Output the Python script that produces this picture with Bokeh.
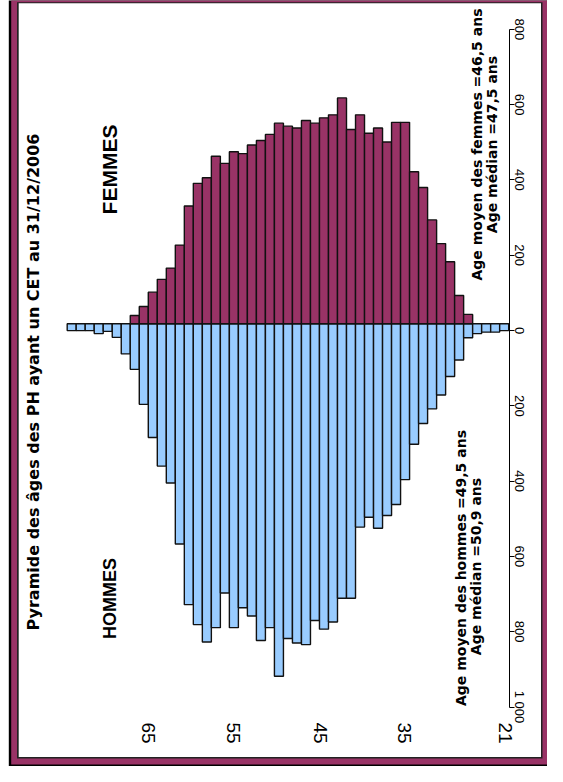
import math
from bokeh.plotting import figure
from bokeh.models import Range1d, LinearAxis, FixedTicker, ColumnDataSource
from bokeh.core.properties import value
from bokeh.embed import file_html
from bokeh.resources import INLINE

# ---------------- data ----------------
ages = list(range(69, 20, -1))  # one bar per year, oldest on the left
hommes = [18, 18, 18, 26, 20, 36, 80, 121, 214, 302,
          378, 423, 585, 746, 799, 845, 807, 715, 807, 754,
          776, 841, 807, 936, 836, 848, 852, 788, 811, 792,
          729, 729, 540, 514, 543, 509, 480, 414, 320, 265,
          226, 189, 140, 96, 37, 26, 22, 22, 18]
femmes = [0, 0, 0, 0, 0, 0, 0, 22, 46, 84,
          118, 148, 209, 313, 373, 388, 445, 426, 457, 452,
          475, 487, 503, 533, 525, 520, 540, 533, 547, 555,
          600, 516, 555, 506, 520, 483, 535, 535, 404, 362,
          276, 213, 165, 75, 25, 0, 0, 0, 0]
age_tick_labels = ["65", "55", "45", "35", "21"]
value_ticks = [-1000, -800, -600, -400, -200, 0, 200, 400, 600, 800]
value_tick_labels = ["1 000", "800", "600", "400", "200", "0", "200", "400", "600", "800"]

title_text = "Pyramide des âges des PH ayant un CET au 31/12/2006"
femmes_note = ["Age moyen des femmes =46,5 ans", "Age médian =47,5 ans"]
hommes_note = ["Age moyen des hommes =49,5 ans", "Age médian =50,9 ans"]

# ---------------- layout helpers (canvas pixels -> data) ----------------
W, H = 547, 766
def X(px):
    return 69 - (px - 71.2) / 9.01
def Y(py):
    return (330 - py) / 0.3765

BASE = Y(323.3)
MAGENTA = "#993366"
BLUE = "#99CCFF"

p = figure(width=W, height=H, output_backend="svg", toolbar_location=None,
           x_range=Range1d(X(0), X(W)), y_range=Range1d(Y(H), Y(0)),
           x_axis_location=None, y_axis_location=None, min_border=0,
           background_fill_color="white", border_fill_color="white",
           outline_line_color=None)
p.title.visible = False
p.grid.visible = False

# frame
p.quad(left=[X(8.3)], right=[X(600)], top=[Y(-50)], bottom=[Y(766.5)],
       fill_color="black", line_color=None)
p.quad(left=[X(10.7)], right=[X(600)], top=[Y(-50)], bottom=[Y(764)],
       fill_color=MAGENTA, line_color=None)
p.quad(left=[X(16.5)], right=[X(542)], top=[Y(1.7)], bottom=[Y(758)],
       fill_color="#222222", line_color=None)
p.quad(left=[X(18.2)], right=[X(540.5)], top=[Y(2.8)], bottom=[Y(756.5)],
       fill_color="white", line_color=None)

# bars
src_h = ColumnDataSource(dict(age=ages, top=[BASE] * len(ages),
                              bottom=[BASE - v for v in hommes]))
p.vbar(x="age", width=1, top="top", bottom="bottom", source=src_h,
       fill_color=BLUE, line_color="#111111", line_width=1.4)
fa = [a for a, v in zip(ages, femmes) if v > 0]
fv = [v for v in femmes if v > 0]
src_f = ColumnDataSource(dict(age=fa, bottom=[BASE] * len(fa),
                              top=[BASE + v for v in fv]))
p.vbar(x="age", width=1, top="top", bottom="bottom", source=src_f,
       fill_color=MAGENTA, line_color="#111111", line_width=1.4)

# value axis (right)
yax = LinearAxis(fixed_location=X(508.5), bounds=(-1000, 800),
                 ticker=FixedTicker(ticks=value_ticks),
                 major_label_overrides=dict(zip(value_ticks, value_tick_labels)),
                 major_label_orientation="vertical",
                 major_tick_out=5, major_tick_in=0, minor_tick_line_color=None,
                 major_label_standoff=-2,
                 axis_line_color="black", major_tick_line_color="black",
                 major_label_text_font="Liberation Sans",
                 major_label_text_font_size="13px",
                 major_label_text_color="black")
p.add_layout(yax, "right")

# age axis (below)
age_tick_pos = [round(X(px), 2) for px in (147.5, 233, 319.5, 404, 505)]
xax = LinearAxis(fixed_location=Y(717),
                 ticker=FixedTicker(ticks=age_tick_pos),
                 major_label_overrides=dict(zip(age_tick_pos, age_tick_labels)),
                 major_label_orientation="vertical",
                 axis_line_color=None, major_tick_line_color=None,
                 minor_tick_line_color=None, major_tick_out=0, major_tick_in=0,
                 major_label_standoff=5,
                 major_label_text_font="Liberation Sans",
                 major_label_text_font_size="19px",
                 major_label_text_color="black")
p.add_layout(xax, "below")

ROT = math.pi / 2
# title
p.text(x=[X(33)], y=[Y(381.5)], text=[title_text], angle=ROT,
       text_align="center", text_baseline="middle",
       text_font=value("DejaVu Sans"), text_font_style="bold",
       text_font_size="16px", text_color="black")
# FEMMES / HOMMES
p.text(x=[X(109)], y=[Y(169)], text=["FEMMES"], angle=ROT,
       text_align="center", text_baseline="middle",
       text_font=value("Liberation Sans"), text_font_style="bold",
       text_font_size="21px", text_color="black")
p.text(x=[X(109)], y=[Y(598)], text=["HOMMES"], angle=ROT,
       text_align="center", text_baseline="middle",
       text_font=value("Liberation Sans"), text_font_style="bold",
       text_font_size="18px", text_color="black")
# notes
p.text(x=[X(476.5), X(491.5)], y=[Y(144), Y(144)], text=femmes_note, angle=ROT,
       text_align="center", text_baseline="middle",
       text_font=value("DejaVu Sans"), text_font_style="bold",
       text_font_size="14px", text_color="black")
p.text(x=[X(460), X(475.5)], y=[Y(567.5), Y(566)], text=hommes_note, angle=ROT,
       text_align="center", text_baseline="middle",
       text_font=value("DejaVu Sans"), text_font_style="bold",
       text_font_size="14px", text_color="black")

open("out.html", "w").write(file_html(p, INLINE))
